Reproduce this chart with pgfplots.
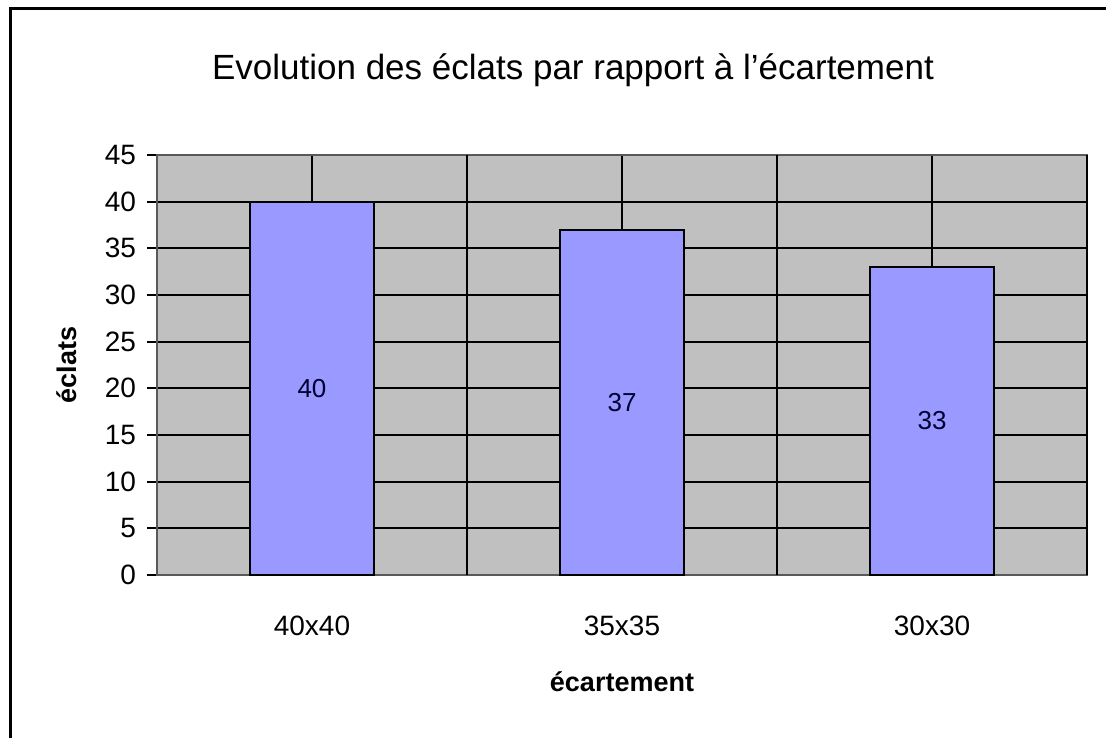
\documentclass[border=0pt]{standalone}
\usepackage{pgfplots}
\pgfplotsset{compat=1.18}
\usepackage{fontspec}
\setmainfont{Liberation Sans}
\definecolor{plotgray}{HTML}{C0C0C0}
\definecolor{barblue}{HTML}{9999FF}
\begin{document}
\begin{tikzpicture}[x=1pt,y=1pt]
\useasboundingbox (0,0) rectangle (553,369);
\fill[white] (0,0) rectangle (553,369);
\draw[black, line width=1.5pt] (5,0) -- (5,364.5) -- (553,364.5);
\node[font=\fontsize{17.5}{20}\selectfont] at (286.5,334) {Evolution des éclats par rapport à l'écartement};
\begin{axis}[
  at={(78.5pt,81.5pt)}, anchor=south west,
  scale only axis, width=465pt, height=210pt,
  xmin=-0.5, xmax=2.5, ymin=0, ymax=45,
  /pgf/number format/assume math mode=true,
  axis background/.style={fill=plotgray},
  axis line style={draw=gray!70!black, line width=0.8pt},
  xtick={0,1,2},
  xticklabels={40x40,35x35,30x30},
  xtick style={draw=none},
  xticklabel style={font=\fontsize{14}{16}\selectfont, yshift=-12pt},
  extra x ticks={0.5,1.5,2.5},
  extra x tick labels={},
  extra x tick style={grid=major, tick align=outside, major tick length=7pt, tick style={draw=black, line width=1pt}},
  xtick pos=bottom,
  ytick={0,5,...,45},
  ytick pos=left,
  tick align=outside,
  major tick length=5pt,
  ytick style={draw=black, line width=1pt},
  yticklabel style={font=\fontsize{14}{16}\selectfont, xshift=-2pt},
  xmajorgrids, ymajorgrids,
  major grid style={draw=black, line width=1pt},
  xlabel={\bfseries écartement},
  ylabel={\bfseries éclats},
  xlabel style={font=\fontsize{13.5}{16}\selectfont, at={(axis description cs:0.5,-0.255)}, anchor=center},
  ylabel style={font=\fontsize{13.5}{16}\selectfont, at={(axis description cs:-0.097,0.5)}, anchor=center},
  axis on top=false,
]
\addplot[ybar, bar width=0.4, fill=barblue, draw=black, line width=1pt,
  nodes near coords,
  visualization depends on={y \as \rawy},
  every node near coord/.append style={anchor=center, font=\fontsize{13}{15}\selectfont, text=black!80!blue,
    shift={(axis direction cs:0,-\rawy/2)}},
] coordinates {(0,40) (1,37) (2,33)};
\end{axis}
\end{tikzpicture}
\end{document}
